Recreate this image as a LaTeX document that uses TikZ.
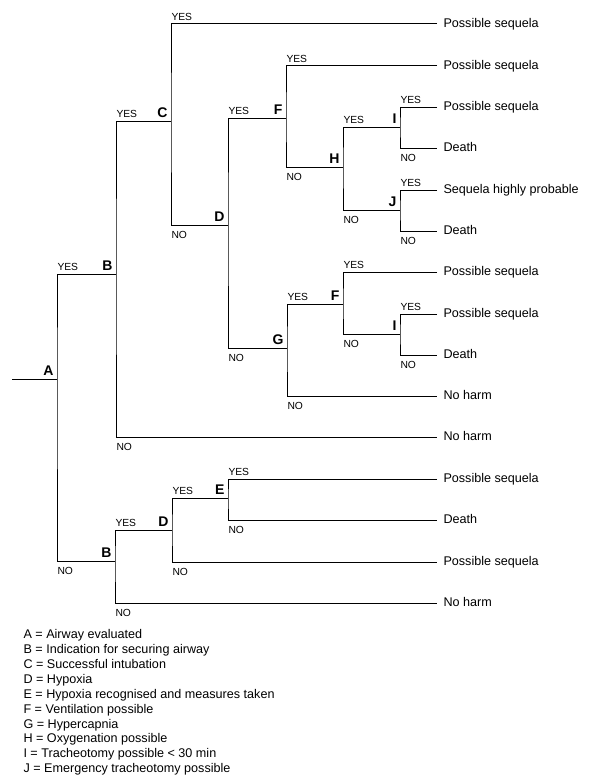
\documentclass[tikz,border=0pt]{standalone}
\usepackage{fontspec}
\setmainfont{Liberation Sans}
\begin{document}
\begin{tikzpicture}[x=1pt,y=-1pt,line width=1pt,
  yn/.style={font=\fontsize{10.3}{11}\selectfont, inner sep=0pt},
  yes/.style={yn, anchor=south west, yshift=3pt},
  no/.style={yn, anchor=north west, yshift=-6pt},
  letter/.style={font=\bfseries\fontsize{14}{16}\selectfont, inner sep=0pt, anchor=south east, xshift=-3pt, yshift=3pt},
  leaf/.style={font=\fontsize{12.6}{14}\selectfont, anchor=west, inner xsep=6pt, inner ysep=0pt, text height=0.72em, text depth=0pt},
  legend/.style={font=\fontsize{12.6}{14.9}\selectfont, align=left, anchor=north west, inner sep=0pt}]
\useasboundingbox (0,0) rectangle (600,784);

% decision points
\coordinate (start) at (12,379);
\coordinate (A) at (57,379);
\coordinate (B1) at (116,274);
\coordinate (C) at (171,121);
\coordinate (D1) at (228,225);
\coordinate (F1) at (286,118);
\coordinate (H) at (343,167);
\coordinate (I1) at (400,127);
\coordinate (J) at (400,210);
\coordinate (G) at (287,348);
\coordinate (F2) at (343,304);
\coordinate (I2) at (400,334);
\coordinate (B2) at (115,561);
\coordinate (D2) at (172,530);
\coordinate (E) at (228,498);

% leaves
\node[leaf] (l1) at (437,24) {Possible sequela};
\node[leaf] (l2) at (437,66) {Possible sequela};
\node[leaf] (l3) at (437,107) {Possible sequela};
\node[leaf] (l4) at (437,148) {Death};
\node[leaf] (l5) at (437,190) {Sequela highly probable};
\node[leaf] (l6) at (437,231) {Death};
\node[leaf] (l7) at (437,272) {Possible sequela};
\node[leaf] (l8) at (437,314) {Possible sequela};
\node[leaf] (l9) at (437,355) {Death};
\node[leaf] (l10) at (437,396) {No harm};
\node[leaf] (l11) at (437,437) {No harm};
\node[leaf] (l12) at (437,479) {Possible sequela};
\node[leaf] (l13) at (437,520) {Death};
\node[leaf] (l14) at (437,562) {Possible sequela};
\node[leaf] (l15) at (437,603) {No harm};

% connectors
\draw (start) -- (A);
\draw (B1) -| (A) |- (B2);
\draw (C) -| (B1) |- (l11.west);
\draw (l1.west) -| (C) |- (D1);
\draw (F1) -| (D1) |- (G);
\draw (l2.west) -| (F1) |- (H);
\draw (I1) -| (H) |- (J);
\draw (l3.west) -| (I1) |- (l4.west);
\draw (l5.west) -| (J) |- (l6.west);
\draw (F2) -| (G) |- (l10.west);
\draw (l7.west) -| (F2) |- (I2);
\draw (l8.west) -| (I2) |- (l9.west);
\draw (D2) -| (B2) |- (l15.west);
\draw (E) -| (D2) |- (l14.west);
\draw (l12.west) -| (E) |- (l13.west);

% letters
\node[letter] (tA) at (A) {A};
\node[letter] (tB1) at (B1) {B};
\node[letter] (tC) at (C) {C};
\node[letter] (tD1) at (D1) {D};
\node[letter] (tF1) at (F1) {F};
\node[letter] (tH) at (H) {H};
\node[letter] (tI1) at (I1) {I};
\node[letter] (tJ) at (J) {J};
\node[letter] (tG) at (G) {G};
\node[letter] (tF2) at (F2) {F};
\node[letter] (tI2) at (I2) {I};
\node[letter] (tB2) at (B2) {B};
\node[letter] (tD2) at (D2) {D};
\node[letter] (tE) at (E) {E};

% YES / NO
\node[yes] (yA) at (A |- B1) {YES};
\node[no] (nA) at (A |- B2) {NO};
\node[yes] (yB1) at (B1 |- C) {YES};
\node[no] (nB1) at (B1 |- l11.west) {NO};
\node[yes] (yC) at (C |- l1.west) {YES};
\node[no] (nC) at (C |- D1) {NO};
\node[yes] (yD1) at (D1 |- F1) {YES};
\node[no] (nD1) at (D1 |- G) {NO};
\node[yes] (yF1) at (F1 |- l2.west) {YES};
\node[no] (nF1) at (F1 |- H) {NO};
\node[yes] (yH) at (H |- I1) {YES};
\node[no] (nH) at (H |- J) {NO};
\node[yes] (yI1) at (I1 |- l3.west) {YES};
\node[no] (nI1) at (I1 |- l4.west) {NO};
\node[yes] (yJ) at (J |- l5.west) {YES};
\node[no] (nJ) at (J |- l6.west) {NO};
\node[yes] (yG) at (G |- F2) {YES};
\node[no] (nG) at (G |- l10.west) {NO};
\node[yes] (yF2) at (F2 |- l7.west) {YES};
\node[no] (nF2) at (F2 |- I2) {NO};
\node[yes] (yI2) at (I2 |- l8.west) {YES};
\node[no] (nI2) at (I2 |- l9.west) {NO};
\node[yes] (yB2) at (B2 |- D2) {YES};
\node[no] (nB2) at (B2 |- l15.west) {NO};
\node[yes] (yD2) at (D2 |- E) {YES};
\node[no] (nD2) at (D2 |- l14.west) {NO};
\node[yes] (yE) at (E |- l12.west) {YES};
\node[no] (nE) at (E |- l13.west) {NO};

% legend
\node[legend] (key) at (23,629) {A = Airway evaluated\\
B = Indication for securing airway\\
C = Successful intubation\\
D = Hypoxia\\
E = Hypoxia recognised and measures taken\\
F = Ventilation possible\\
G = Hypercapnia\\
H = Oxygenation possible\\
I = Tracheotomy possible < 30 min\\
J = Emergency tracheotomy possible};
\end{tikzpicture}
\end{document}
